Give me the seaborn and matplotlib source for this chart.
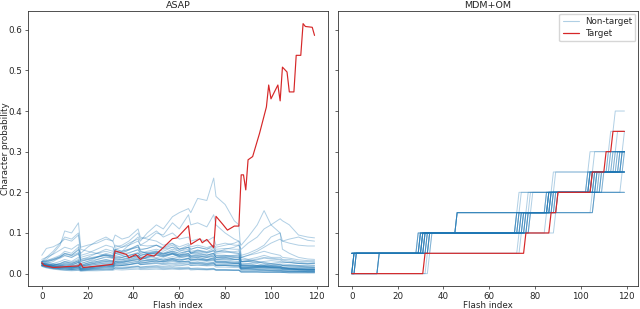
import numpy as np
import pandas as pd
import matplotlib
matplotlib.use('Agg')
import matplotlib.pyplot as plt
import seaborn as sns
from matplotlib.lines import Line2D

# flash indices at which the ASAP non-target curves were read off
FLASH_GRID = [0, 2, 5, 8, 10, 13, 16, 17, 20, 24, 28, 31, 32, 35, 38, 42, 43, 46, 50, 53, 57,
              60, 64, 65, 68, 72, 75, 76, 80, 84, 86, 87, 90, 94, 97, 100, 104, 105, 108, 112, 116, 119]

# ASAP: non-target character probabilities (one row per character)
ASAP_NONTARGET = [
    [0.028, 0.03, 0.035, 0.04, 0.045, 0.04, 0.05, 0.03, 0.035, 0.04, 0.05, 0.045, 0.06, 0.065, 0.07, 0.09, 0.08, 0.1, 0.12, 0.11, 0.14,
     0.15, 0.16, 0.15, 0.185, 0.18, 0.235, 0.19, 0.17, 0.13, 0.12, 0.04, 0.035, 0.03, 0.025, 0.02, 0.018, 0.015, 0.013, 0.012, 0.01, 0.01],
    [0.025, 0.022, 0.025, 0.03, 0.035, 0.03, 0.04, 0.025, 0.03, 0.04, 0.045, 0.04, 0.06, 0.055, 0.07, 0.08, 0.07, 0.08, 0.1, 0.095, 0.125,
     0.11, 0.145, 0.12, 0.125, 0.115, 0.145, 0.12, 0.1, 0.085, 0.08, 0.03, 0.03, 0.025, 0.02, 0.02, 0.018, 0.015, 0.012, 0.01, 0.008, 0.008],
    [0.02, 0.02, 0.02, 0.025, 0.03, 0.025, 0.03, 0.02, 0.025, 0.03, 0.035, 0.03, 0.045, 0.04, 0.045, 0.05, 0.045, 0.05, 0.055, 0.05, 0.06,
     0.055, 0.065, 0.06, 0.065, 0.06, 0.07, 0.065, 0.07, 0.075, 0.08, 0.07, 0.09, 0.12, 0.155, 0.12, 0.1, 0.08, 0.075, 0.07, 0.068, 0.068],
    [0.025, 0.024, 0.022, 0.024, 0.028, 0.026, 0.032, 0.022, 0.026, 0.03, 0.034, 0.032, 0.042, 0.04, 0.044, 0.05, 0.045, 0.048, 0.052, 0.048, 0.055,
     0.05, 0.056, 0.052, 0.056, 0.052, 0.058, 0.052, 0.06, 0.065, 0.07, 0.06, 0.075, 0.09, 0.11, 0.12, 0.135, 0.13, 0.12, 0.095, 0.09, 0.088],
    [0.045, 0.062, 0.066, 0.075, 0.09, 0.085, 0.1, 0.06, 0.055, 0.05, 0.045, 0.04, 0.05, 0.045, 0.04, 0.045, 0.04, 0.035, 0.03, 0.03, 0.035,
     0.03, 0.03, 0.025, 0.025, 0.022, 0.025, 0.02, 0.02, 0.018, 0.018, 0.012, 0.012, 0.01, 0.01, 0.008, 0.008, 0.007, 0.006, 0.006, 0.005, 0.005],
    [0.03, 0.035, 0.05, 0.07, 0.105, 0.1, 0.125, 0.065, 0.07, 0.075, 0.085, 0.08, 0.095, 0.085, 0.09, 0.11, 0.09, 0.085, 0.08, 0.07, 0.075,
     0.06, 0.065, 0.05, 0.05, 0.045, 0.05, 0.04, 0.04, 0.035, 0.035, 0.025, 0.025, 0.02, 0.02, 0.018, 0.015, 0.012, 0.012, 0.01, 0.01, 0.01],
    [0.025, 0.025, 0.03, 0.04, 0.05, 0.045, 0.06, 0.05, 0.065, 0.08, 0.09, 0.08, 0.065, 0.07, 0.08, 0.1, 0.085, 0.09, 0.105, 0.09, 0.1,
     0.085, 0.09, 0.08, 0.085, 0.08, 0.09, 0.07, 0.075, 0.07, 0.07, 0.045, 0.05, 0.06, 0.07, 0.09, 0.1, 0.06, 0.05, 0.04, 0.036, 0.035],
    [0.02, 0.02, 0.022, 0.025, 0.03, 0.028, 0.035, 0.025, 0.03, 0.035, 0.04, 0.038, 0.05, 0.045, 0.05, 0.06, 0.05, 0.055, 0.06, 0.055, 0.065,
     0.06, 0.07, 0.06, 0.065, 0.06, 0.065, 0.055, 0.055, 0.05, 0.05, 0.035, 0.035, 0.04, 0.045, 0.04, 0.04, 0.035, 0.035, 0.03, 0.03, 0.032],
    [0.025, 0.02, 0.015, 0.012, 0.012, 0.01, 0.012, 0.008, 0.01, 0.012, 0.015, 0.014, 0.02, 0.02, 0.022, 0.028, 0.025, 0.028, 0.032, 0.03, 0.035,
     0.03, 0.038, 0.033, 0.036, 0.033, 0.04, 0.035, 0.038, 0.04, 0.042, 0.03, 0.032, 0.03, 0.028, 0.025, 0.022, 0.02, 0.02, 0.018, 0.016, 0.015],
    [0.02, 0.018, 0.016, 0.018, 0.022, 0.02, 0.028, 0.018, 0.022, 0.028, 0.032, 0.03, 0.04, 0.036, 0.04, 0.045, 0.04, 0.042, 0.048, 0.044, 0.05,
     0.045, 0.05, 0.045, 0.048, 0.045, 0.05, 0.045, 0.045, 0.042, 0.04, 0.02, 0.02, 0.018, 0.016, 0.015, 0.013, 0.012, 0.011, 0.01, 0.009, 0.009],
    [0.03, 0.028, 0.025, 0.02, 0.018, 0.016, 0.02, 0.014, 0.015, 0.018, 0.022, 0.02, 0.03, 0.028, 0.032, 0.038, 0.034, 0.04, 0.045, 0.04, 0.048,
     0.042, 0.045, 0.038, 0.04, 0.035, 0.038, 0.03, 0.03, 0.028, 0.028, 0.018, 0.018, 0.02, 0.022, 0.025, 0.028, 0.026, 0.028, 0.025, 0.024, 0.025],
    [0.028, 0.025, 0.02, 0.016, 0.015, 0.013, 0.016, 0.01, 0.012, 0.014, 0.016, 0.015, 0.022, 0.02, 0.022, 0.026, 0.022, 0.025, 0.028, 0.025, 0.03,
     0.026, 0.028, 0.024, 0.026, 0.024, 0.026, 0.02, 0.02, 0.018, 0.018, 0.01, 0.01, 0.009, 0.008, 0.007, 0.006, 0.006, 0.005, 0.005, 0.004, 0.004],
    [0.022, 0.018, 0.014, 0.012, 0.011, 0.01, 0.012, 0.009, 0.011, 0.014, 0.018, 0.017, 0.026, 0.03, 0.034, 0.04, 0.035, 0.038, 0.04, 0.036, 0.042,
     0.038, 0.044, 0.04, 0.042, 0.04, 0.046, 0.04, 0.042, 0.044, 0.045, 0.028, 0.03, 0.034, 0.038, 0.036, 0.034, 0.03, 0.028, 0.025, 0.024, 0.026],
    [0.026, 0.02, 0.016, 0.014, 0.014, 0.012, 0.015, 0.01, 0.012, 0.013, 0.014, 0.013, 0.018, 0.016, 0.017, 0.019, 0.016, 0.017, 0.018, 0.016, 0.018,
     0.015, 0.016, 0.013, 0.014, 0.012, 0.013, 0.01, 0.01, 0.009, 0.009, 0.005, 0.005, 0.005, 0.004, 0.004, 0.004, 0.003, 0.003, 0.003, 0.003, 0.003],
    [0.024, 0.022, 0.02, 0.022, 0.026, 0.024, 0.032, 0.02, 0.026, 0.034, 0.042, 0.038, 0.055, 0.05, 0.058, 0.07, 0.06, 0.062, 0.07, 0.062, 0.07,
     0.06, 0.065, 0.055, 0.058, 0.052, 0.056, 0.045, 0.045, 0.04, 0.04, 0.022, 0.022, 0.02, 0.018, 0.016, 0.014, 0.012, 0.012, 0.01, 0.01, 0.01],
    [0.02, 0.016, 0.012, 0.01, 0.009, 0.008, 0.009, 0.007, 0.008, 0.009, 0.01, 0.01, 0.014, 0.013, 0.015, 0.018, 0.016, 0.018, 0.02, 0.018, 0.021,
     0.019, 0.022, 0.02, 0.021, 0.02, 0.022, 0.019, 0.02, 0.02, 0.02, 0.012, 0.013, 0.014, 0.015, 0.015, 0.016, 0.015, 0.016, 0.015, 0.014, 0.014],
    [0.03, 0.032, 0.038, 0.045, 0.055, 0.05, 0.065, 0.04, 0.045, 0.05, 0.055, 0.05, 0.06, 0.055, 0.06, 0.065, 0.055, 0.05, 0.05, 0.045, 0.05,
     0.042, 0.045, 0.038, 0.04, 0.035, 0.036, 0.03, 0.03, 0.028, 0.028, 0.016, 0.016, 0.015, 0.014, 0.013, 0.012, 0.011, 0.01, 0.01, 0.009, 0.009],
    [0.018, 0.015, 0.013, 0.013, 0.014, 0.013, 0.016, 0.011, 0.013, 0.016, 0.02, 0.019, 0.028, 0.026, 0.03, 0.034, 0.03, 0.032, 0.036, 0.033, 0.038,
     0.034, 0.038, 0.033, 0.035, 0.032, 0.034, 0.028, 0.028, 0.026, 0.026, 0.015, 0.016, 0.018, 0.02, 0.022, 0.024, 0.022, 0.022, 0.02, 0.019, 0.02],
    [0.022, 0.02, 0.018, 0.02, 0.024, 0.022, 0.028, 0.018, 0.022, 0.026, 0.03, 0.028, 0.036, 0.034, 0.038, 0.046, 0.04, 0.044, 0.052, 0.048, 0.056,
     0.05, 0.056, 0.05, 0.054, 0.05, 0.056, 0.05, 0.052, 0.054, 0.056, 0.04, 0.045, 0.05, 0.055, 0.05, 0.045, 0.04, 0.038, 0.034, 0.032, 0.03],
    [0.02, 0.017, 0.014, 0.012, 0.012, 0.011, 0.013, 0.009, 0.01, 0.011, 0.012, 0.011, 0.015, 0.014, 0.015, 0.017, 0.014, 0.015, 0.016, 0.014, 0.015,
     0.013, 0.014, 0.012, 0.012, 0.011, 0.012, 0.009, 0.009, 0.008, 0.008, 0.004, 0.004, 0.004, 0.003, 0.003, 0.003, 0.003, 0.002, 0.002, 0.002, 0.002],
    [0.024, 0.02, 0.017, 0.016, 0.017, 0.015, 0.018, 0.013, 0.015, 0.018, 0.021, 0.02, 0.026, 0.024, 0.027, 0.031, 0.027, 0.029, 0.032, 0.029, 0.033,
     0.029, 0.031, 0.027, 0.028, 0.025, 0.027, 0.022, 0.022, 0.02, 0.02, 0.011, 0.011, 0.01, 0.009, 0.009, 0.008, 0.007, 0.007, 0.006, 0.006, 0.006],
    [0.03, 0.032, 0.036, 0.042, 0.048, 0.044, 0.052, 0.035, 0.038, 0.042, 0.046, 0.043, 0.052, 0.048, 0.052, 0.058, 0.05, 0.052, 0.056, 0.05, 0.054,
     0.046, 0.05, 0.043, 0.044, 0.04, 0.042, 0.035, 0.034, 0.031, 0.03, 0.018, 0.018, 0.017, 0.016, 0.015, 0.014, 0.013, 0.012, 0.012, 0.011, 0.011],
    [0.022, 0.019, 0.016, 0.015, 0.015, 0.014, 0.017, 0.012, 0.014, 0.017, 0.02, 0.019, 0.025, 0.023, 0.026, 0.03, 0.026, 0.028, 0.031, 0.028, 0.032,
     0.028, 0.031, 0.027, 0.029, 0.026, 0.028, 0.024, 0.025, 0.025, 0.025, 0.014, 0.015, 0.016, 0.017, 0.017, 0.018, 0.017, 0.017, 0.016, 0.015, 0.015],
    [0.026, 0.024, 0.022, 0.022, 0.024, 0.022, 0.027, 0.019, 0.022, 0.026, 0.03, 0.028, 0.036, 0.034, 0.038, 0.044, 0.038, 0.041, 0.046, 0.042, 0.048,
     0.043, 0.048, 0.043, 0.046, 0.042, 0.047, 0.041, 0.043, 0.045, 0.047, 0.03, 0.032, 0.036, 0.04, 0.038, 0.036, 0.033, 0.031, 0.028, 0.026, 0.027],
    [0.03, 0.04, 0.055, 0.075, 0.085, 0.08, 0.095, 0.045, 0.05, 0.06, 0.07, 0.065, 0.05, 0.055, 0.06, 0.07, 0.055, 0.05, 0.05, 0.045, 0.048,
     0.04, 0.042, 0.035, 0.036, 0.032, 0.034, 0.028, 0.028, 0.025, 0.025, 0.015, 0.015, 0.014, 0.013, 0.012, 0.011, 0.01, 0.01, 0.009, 0.009, 0.009],
    [0.035, 0.04, 0.048, 0.058, 0.065, 0.06, 0.072, 0.035, 0.04, 0.05, 0.06, 0.055, 0.07, 0.065, 0.075, 0.085, 0.07, 0.068, 0.07, 0.06, 0.065,
     0.055, 0.06, 0.05, 0.052, 0.046, 0.05, 0.04, 0.04, 0.036, 0.035, 0.02, 0.02, 0.018, 0.017, 0.016, 0.015, 0.014, 0.013, 0.012, 0.012, 0.012],
    [0.02, 0.016, 0.013, 0.011, 0.011, 0.01, 0.011, 0.008, 0.009, 0.01, 0.011, 0.011, 0.013, 0.012, 0.013, 0.014, 0.012, 0.013, 0.014, 0.012, 0.013,
     0.012, 0.013, 0.011, 0.011, 0.01, 0.011, 0.009, 0.009, 0.009, 0.009, 0.006, 0.006, 0.006, 0.006, 0.006, 0.005, 0.005, 0.005, 0.005, 0.005, 0.005],
    [0.022, 0.02, 0.018, 0.018, 0.02, 0.018, 0.022, 0.016, 0.019, 0.023, 0.027, 0.025, 0.033, 0.031, 0.035, 0.042, 0.036, 0.04, 0.046, 0.042, 0.05,
     0.046, 0.055, 0.05, 0.058, 0.054, 0.062, 0.055, 0.056, 0.052, 0.05, 0.02, 0.02, 0.019, 0.018, 0.017, 0.016, 0.015, 0.014, 0.013, 0.012, 0.012],
    [0.024, 0.022, 0.02, 0.02, 0.021, 0.019, 0.023, 0.017, 0.02, 0.023, 0.026, 0.025, 0.03, 0.028, 0.031, 0.035, 0.031, 0.033, 0.036, 0.033, 0.037,
     0.034, 0.037, 0.034, 0.036, 0.034, 0.037, 0.033, 0.034, 0.035, 0.036, 0.04, 0.045, 0.055, 0.065, 0.075, 0.085, 0.08, 0.085, 0.09, 0.082, 0.08],
    [0.026, 0.022, 0.018, 0.016, 0.016, 0.014, 0.017, 0.012, 0.014, 0.016, 0.018, 0.017, 0.021, 0.02, 0.022, 0.025, 0.022, 0.023, 0.025, 0.022, 0.024,
     0.021, 0.023, 0.02, 0.021, 0.019, 0.02, 0.016, 0.016, 0.015, 0.015, 0.008, 0.008, 0.008, 0.007, 0.007, 0.007, 0.006, 0.006, 0.006, 0.005, 0.005],
    [0.028, 0.03, 0.033, 0.038, 0.044, 0.04, 0.048, 0.03, 0.034, 0.04, 0.046, 0.043, 0.038, 0.04, 0.045, 0.052, 0.045, 0.048, 0.054, 0.048, 0.052,
     0.045, 0.048, 0.042, 0.044, 0.04, 0.043, 0.036, 0.037, 0.035, 0.034, 0.022, 0.024, 0.027, 0.03, 0.032, 0.03, 0.028, 0.027, 0.025, 0.024, 0.024],
    [0.018, 0.014, 0.011, 0.009, 0.008, 0.007, 0.008, 0.006, 0.007, 0.007, 0.008, 0.008, 0.01, 0.009, 0.01, 0.011, 0.01, 0.01, 0.011, 0.01, 0.011,
     0.01, 0.011, 0.009, 0.01, 0.009, 0.01, 0.008, 0.008, 0.008, 0.008, 0.003, 0.003, 0.003, 0.003, 0.003, 0.003, 0.003, 0.002, 0.002, 0.002, 0.002],
    [0.024, 0.028, 0.034, 0.042, 0.05, 0.046, 0.058, 0.032, 0.036, 0.041, 0.047, 0.044, 0.056, 0.052, 0.058, 0.066, 0.058, 0.062, 0.07, 0.064, 0.074,
     0.066, 0.074, 0.066, 0.07, 0.064, 0.07, 0.06, 0.062, 0.06, 0.06, 0.03, 0.03, 0.028, 0.026, 0.024, 0.022, 0.02, 0.019, 0.018, 0.017, 0.017],
    [0.02, 0.018, 0.016, 0.015, 0.016, 0.015, 0.018, 0.013, 0.015, 0.017, 0.019, 0.018, 0.022, 0.021, 0.023, 0.026, 0.023, 0.024, 0.026, 0.024, 0.026,
     0.024, 0.026, 0.023, 0.024, 0.022, 0.024, 0.021, 0.022, 0.022, 0.022, 0.012, 0.013, 0.015, 0.017, 0.019, 0.021, 0.02, 0.021, 0.02, 0.019, 0.019],
    [0.025, 0.021, 0.018, 0.017, 0.018, 0.016, 0.019, 0.014, 0.016, 0.02, 0.024, 0.022, 0.03, 0.028, 0.031, 0.036, 0.031, 0.033, 0.037, 0.033, 0.037,
     0.033, 0.036, 0.031, 0.033, 0.03, 0.032, 0.027, 0.027, 0.025, 0.025, 0.013, 0.013, 0.012, 0.011, 0.011, 0.01, 0.009, 0.009, 0.008, 0.008, 0.008],
]

# ASAP: target character
ASAP_TARGET_X = [0, 1, 5, 10, 16, 17, 18, 25, 31, 32, 37, 38, 41, 43, 46, 49, 53, 57, 59, 64, 65, 69, 70, 72, 75, 76,
                 79, 81, 84, 86, 87, 88, 89, 90, 92, 95, 98, 99, 100, 103, 104, 105, 107, 108, 110, 111, 113, 114, 115, 118, 119]
ASAP_TARGET_Y = [0.027, 0.02, 0.015, 0.017, 0.019, 0.025, 0.015, 0.019, 0.023, 0.056, 0.047, 0.039, 0.047, 0.035, 0.047, 0.043,
                 0.064, 0.086, 0.088, 0.118, 0.072, 0.086, 0.076, 0.084, 0.064, 0.141, 0.121, 0.107, 0.117, 0.117, 0.243, 0.243,
                 0.206, 0.28, 0.288, 0.345, 0.41, 0.464, 0.43, 0.464, 0.425, 0.508, 0.496, 0.447, 0.447, 0.537, 0.537, 0.615,
                 0.608, 0.606, 0.586]

# MDM+OM: step curves, start level and flash index of each 0.05 step
MDM_STEP = 0.05
N_FLASH = 120
MDM_START = [0.05, 0.05, 0.05, 0.05, 0.05, 0, 0, 0, 0, 0, 0, 0, 0, 0.05, 0.05, 0, 0, 0.05, 0.05, 0,
             0, 0, 0, 0, 0, 0.05, 0.05, 0, 0, 0.05, 0, 0.05, 0, 0.05, 0]
MDM_JUMPS = [
    [30, 46, 73, 89, 104, 113, 115],
    [31, 46, 74, 88, 106, 116],
    [32, 76, 86, 105, 117],
    [33, 74, 85, 107],
    [30, 73, 87, 108, 118],
    [1, 31, 77, 88, 106, 119],
    [2, 32, 78, 86, 104, 114],
    [1, 33, 76, 87, 105],
    [12, 34, 72, 85, 107],
    [12, 35, 75, 89, 103, 112],
    [1, 30, 46, 78, 106],
    [2, 31, 73, 86, 110],
    [34, 74, 85, 106],
    [29, 72, 105],
    [31, 75, 106],
    [1, 32, 77, 90, 109, 117],
    [2, 34, 46, 86, 104, 118],
    [30, 76, 88, 103, 112, 119],
    [32, 73, 87, 109, 116],
    [12, 31, 78, 89, 104, 113],
    [1, 32, 74, 87, 108],
    [2, 30, 75, 86, 105, 117],
    [33, 73, 89, 106, 118],
    [12, 34, 46, 79, 104, 115],
    [1, 29, 74, 85, 107, 114],
    [31, 77, 88, 104],
    [34, 72, 86, 109, 118],
    [2, 33, 76, 90, 106, 116],
    [1, 35, 77, 87, 103],
    [30, 74, 89, 105, 115],
    [12, 32, 73, 88, 107, 119],
    [33, 78, 86, 106],
    [1, 31, 75, 90, 110, 118],
    [29, 46, 77, 104, 113],
    [2, 34, 72, 87, 105],
]
MDM_TARGET_JUMPS = [32, 76, 87, 90, 105, 111, 114]

BLUE = '#1f77b4'
RED = '#d62728'


def step_points(start, jumps):
    xs, ys = [0], [start]
    level = start
    for j in jumps:
        xs += [j - 1, j]
        ys += [level, level + MDM_STEP]
        level += MDM_STEP
    xs.append(N_FLASH - 1)
    ys.append(level)
    return xs, ys


rows = []
for i, vals in enumerate(ASAP_NONTARGET):
    for f, p in zip(FLASH_GRID, vals, strict=True):
        rows.append({'char': i, 'flash': f, 'prob': p})
asap_nt = pd.DataFrame(rows)
asap_t = pd.DataFrame({'flash': ASAP_TARGET_X, 'prob': ASAP_TARGET_Y})

rows = []
for i, (s, jumps) in enumerate(zip(MDM_START, MDM_JUMPS, strict=True)):
    xs, ys = step_points(s, jumps)
    for f, p in zip(xs, ys):
        rows.append({'char': i, 'flash': f, 'prob': p})
mdm_nt = pd.DataFrame(rows)
tx, ty = step_points(0, MDM_TARGET_JUMPS)
mdm_t = pd.DataFrame({'flash': tx, 'prob': ty})

sns.set_style('ticks')
plt.rcParams.update({'font.size': 6.5, 'axes.linewidth': 0.6,
                     'xtick.major.size': 2, 'ytick.major.size': 2,
                     'xtick.major.width': 0.5, 'ytick.major.width': 0.5,
                     'xtick.major.pad': 2.5, 'ytick.major.pad': 2,
                     'axes.edgecolor': '0.2'})

fig, (ax1, ax2) = plt.subplots(1, 2, figsize=(6.4, 3.09), dpi=100, sharey=True)
fig.subplots_adjust(left=0.044, right=0.997, bottom=0.074, top=0.964, wspace=0.033)

for ax, nt, t, title in [(ax1, asap_nt, asap_t, 'ASAP'), (ax2, mdm_nt, mdm_t, 'MDM+OM')]:
    sns.lineplot(data=nt, x='flash', y='prob', units='char', estimator=None,
                 color=BLUE, alpha=0.35, lw=0.7, ax=ax, legend=False, sort=False)
    sns.lineplot(data=t, x='flash', y='prob', color=RED, lw=0.85,
                 ax=ax, legend=False, sort=False, zorder=5)
    ax.set_title(title, fontsize=6.8, pad=2)
    ax.set_xlabel('Flash index', fontsize=6.3, labelpad=0)
    ax.set_xticks([0, 20, 40, 60, 80, 100, 120])
    ax.tick_params(labelsize=6.3)

ax1.set_ylabel('Character probability', fontsize=6.3)
ax1.yaxis.set_label_coords(-0.062, 0.5)
ax2.set_ylabel('')
ax1.set_yticks([0, 0.1, 0.2, 0.3, 0.4, 0.5, 0.6])

handles = [Line2D([], [], color=BLUE, alpha=0.35, lw=0.8),
           Line2D([], [], color=RED, lw=0.9)]
ax2.legend(handles, ['Non-target', 'Target'], loc='upper right', fontsize=6.3,
           frameon=True, handlelength=1.8, handletextpad=0.7,
           borderpad=0.4, labelspacing=0.3, borderaxespad=0.3)

fig.savefig('out.png', dpi=100)
